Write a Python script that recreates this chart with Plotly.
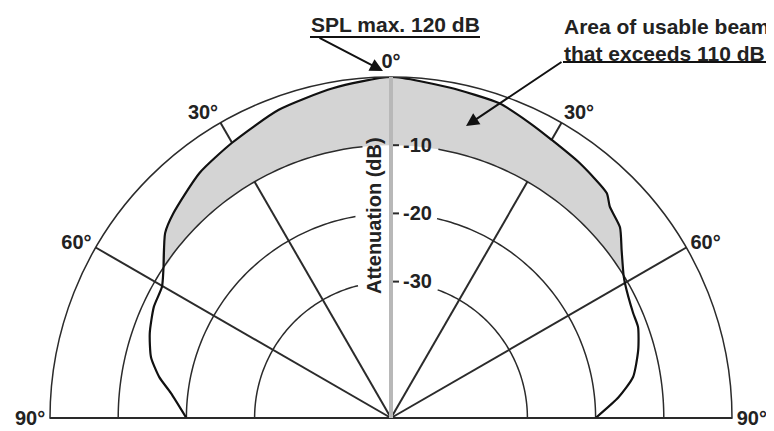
import numpy as np
import plotly.graph_objects as go

# response curve, angle from front (deg, negative = left side) and level (dB re max)
left_angle = [-90, -83.5, -80, -75.8, -70.6, -64.9, -60.2, -56.5, -50.7, -46.8, -38, -30, -20, -10, 0]
left_db = [-20, -17.5, -15.5, -13.7, -12.5, -11.6, -11.3, -10, -7.2, -6.2, -4.4, -3.4, -1.9, -0.9, 0]
right_angle = [10, 19, 25.2, 30, 36.5, 43.8, 46, 50.2, 54, 58.5, 60, 66.5, 69.8, 74.6, 80.4, 84.8, 90]
right_db = [-0.8, -1.2, -2.2, -2.9, -3.5, -4.3, -5.4, -6.3, -8.2, -10, -10.4, -11.3, -11.4, -12.4, -14.0, -16.5, -20]

ring_levels = [-10, -20, -30]
ring_gap = [(-6, 10), (-9.6, 13), (-14, 20)]   # where rings break around the axis labels
tick_labels = ["90°", "60°", "30°", "0°", "30°", "60°", "90°"]
usable_limit = -10

angle = left_angle + right_angle
db = left_db + right_db

FONT = "Liberation Sans, Arial, sans-serif"
DARK = "#2b2b2b"

# page body has an 8px margin, so size/position everything relative to that
W, H, OFF = 766, 423, 8


def px(x):
    return (x - OFF) / W


def py(y):
    return 1 - (y - OFF) / H


fig = go.Figure()

# shaded area where level is above the usable limit
sel = [(a, d) for a, d in zip(angle, db) if d >= usable_limit]
sa = [a for a, _ in sel]
sd = [d for _, d in sel]
shade = dict(
    theta=sa + sa[::-1], r=sd + [usable_limit] * len(sa),
    mode="lines", line=dict(width=0, shape="spline"), fill="toself",
    hoverinfo="skip", showlegend=False,
)
try:
    fig.add_trace(go.Scatterpolar(
        **shade, fillcolor="white",
        fillpattern=dict(shape="/", fgcolor="#8a8a8a", bgcolor="white", size=4, solidity=0.35),
    ))
except ValueError:
    fig.add_trace(go.Scatterpolar(**shade, fillcolor="#d4d4d4"))

# rings with gaps around the axis labels
for lvl, (g1, g2) in zip(ring_levels, ring_gap):
    for th in (np.arange(-90, g1 + 0.01, 1.0), np.arange(g2, 90.01, 1.0)):
        fig.add_trace(go.Scatterpolar(
            theta=th, r=[lvl] * len(th), mode="lines",
            line=dict(color=DARK, width=1.5), hoverinfo="skip", showlegend=False,
        ))

# polar response
fig.add_trace(go.Scatterpolar(
    theta=angle, r=db, mode="lines",
    line=dict(color="#111111", width=2.2, shape="spline", smoothing=0.6),
    showlegend=False,
))

fig.update_layout(
    width=W, height=H,
    margin=dict(l=0, r=0, t=0, b=0),
    paper_bgcolor="white",
    font=dict(family=FONT, size=21, color="#222222"),
    polar=dict(
        domain=dict(x=[px(50), px(732)], y=[py(418), py(77)]),
        sector=[0, 180],
        bgcolor="white",
        angularaxis=dict(
            rotation=90, direction="clockwise",
            tickvals=[-90, -60, -30, 0, 30, 60, 90],
            ticktext=[f"<b>{t}</b>" for t in tick_labels],
            showgrid=True, gridcolor=DARK, gridwidth=1.5,
            showline=True, linecolor=DARK, linewidth=1.5,
            ticks="", tickfont=dict(size=20, color="#222222"),
        ),
        radialaxis=dict(
            range=[-50, 0], angle=90, side="clockwise",
            tickvals=ring_levels, ticktext=[f"<b>{v}</b>" for v in ring_levels],
            tickangle=90,
            showgrid=False, showline=True, linecolor="#b8b8b8", linewidth=4,
            ticks="outside", ticklen=6, tickcolor=DARK, tickwidth=1.5,
            tickfont=dict(size=20, color="#222222"),
        ),
    ),
)

fig.add_annotation(
    text="<b>Attenuation (dB)</b>", textangle=-90,
    x=px(374), y=py(216), xref="paper", yref="paper",
    showarrow=False, font=dict(size=20),
)
fig.add_annotation(
    text="<b>SPL max. 120 dB</b>", x=px(395), y=py(24),
    xref="paper", yref="paper", xanchor="center", yanchor="middle",
    showarrow=False, font=dict(size=21),
)
fig.add_annotation(
    text="<b>Area of usable beam<br>that exceeds 110 dB</b>", x=px(771), y=py(40),
    xref="paper", yref="paper", xanchor="right", yanchor="middle", align="left",
    showarrow=False, font=dict(size=21),
)
# arrows
fig.add_annotation(
    x=px(383), y=py(71), xref="paper", yref="paper", text="",
    showarrow=True, ax=-65, ay=-34, arrowhead=2, arrowsize=1.3, arrowwidth=2, arrowcolor="#111111",
)
fig.add_annotation(
    x=px(466), y=py(126), xref="paper", yref="paper", text="",
    showarrow=True, ax=97, ay=-65, arrowhead=2, arrowsize=1.3, arrowwidth=2, arrowcolor="#111111",
)
# underlines
for x0, x1, y in [(310, 480, 37), (563, 770, 62)]:
    fig.add_shape(type="line", xref="paper", yref="paper",
                  x0=px(x0), x1=px(x1), y0=py(y), y1=py(y),
                  line=dict(color="#111111", width=2))

fig.write_html("out.html")
